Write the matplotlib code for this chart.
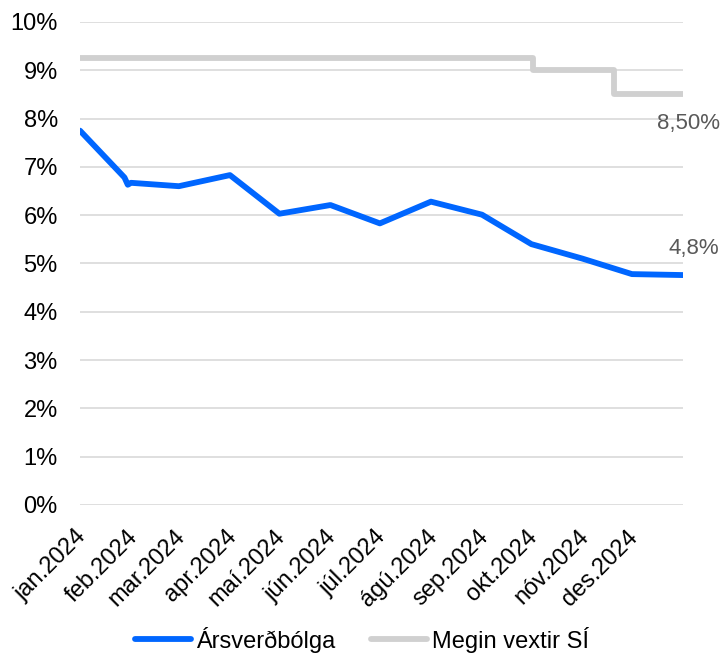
import numpy as np
import pandas as pd
import matplotlib
matplotlib.use("Agg")
from matplotlib import pyplot as plt
from matplotlib.ticker import FuncFormatter
import matplotlib.transforms as mtransforms

plt.rcParams['font.family'] = ['Liberation Sans', 'DejaVu Sans']

# verðbólga (12 mán.)
infl_dates = ['2024-01-01', '2024-01-28', '2024-01-30', '2024-02-01', '2024-03-01',
              '2024-04-01', '2024-05-01', '2024-06-01', '2024-07-01', '2024-08-01',
              '2024-09-01', '2024-10-01', '2024-11-01', '2024-12-01', '2025-01-01']
infl = [7.75, 6.78, 6.63, 6.67, 6.60, 6.83, 6.03, 6.21, 5.83, 6.28,
        6.01, 5.40, 5.10, 4.78, 4.76]

# meginvextir Seðlabankans
rate_dates = ['2024-01-01', '2024-10-02', '2024-11-20', '2025-01-01']
rates = [9.25, 9.00, 8.50, 8.50]

month_labels = ['jan.2024', 'feb.2024', 'mar.2024', 'apr.2024', 'maí.2024', 'jún.2024',
                'júl.2024', 'ágú.2024', 'sep.2024', 'okt.2024', 'nóv.2024', 'des.2024']

x_infl = pd.to_datetime(infl_dates)
x_rate = pd.to_datetime(rate_dates)
month_ticks = pd.date_range('2024-01-01', periods=12, freq='MS')

fig = plt.figure(figsize=(7.24, 6.62), dpi=100)
ax = fig.add_axes([0.1105, 0.2372, 0.8329, 0.7296])

blue = '#0066ff'
grey = '#d0d0d0'

ax.plot(x_infl, infl, color=blue, lw=4.2, solid_joinstyle='round',
        solid_capstyle='round', label='Ársverðbólga', zorder=3)
ax.step(x_rate, rates, where='post', color=grey, lw=4.2, solid_joinstyle='round',
        solid_capstyle='round', label='Megin vextir SÍ', zorder=2)

ax.set_ylim(0, 10)
ax.set_yticks(range(0, 11))
ax.yaxis.set_major_formatter(FuncFormatter(lambda v, p: f'{int(v)}%'))
ax.set_xlim(x_infl[0], x_infl[-1])
ax.set_xticks(month_ticks)
ax.set_xticklabels(month_labels, rotation=45, ha='right', rotation_mode='anchor')
ax.tick_params(axis='both', length=0, labelsize=17, colors='black')
ax.tick_params(axis='y', pad=16)
ax.tick_params(axis='x', pad=15)
shift = mtransforms.ScaledTranslation(-5 / 100, 0, fig.dpi_scale_trans)
for lab in ax.get_xticklabels():
    lab.set_transform(lab.get_transform() + shift)

ax.grid(axis='y', color='#d9d9d9', lw=1.2)
ax.set_axisbelow(True)
for s in ax.spines.values():
    s.set_visible(False)

ax.annotate('8,50%', xy=(x_rate[-1], rates[-1]), xytext=(4, -21), textcoords='offset points',
            ha='center', va='center', fontsize=16, color='#595959', annotation_clip=False)
ax.annotate('4,8%', xy=(x_infl[-1], infl[-1]), xytext=(8, 19), textcoords='offset points',
            ha='center', va='center', fontsize=16, color='#595959', annotation_clip=False)

fig.legend(loc='lower center', bbox_to_anchor=(0.5, -0.018), ncol=2, frameon=False,
           fontsize=17, handlelength=2.4, handletextpad=0.2, columnspacing=1.5)

fig.savefig('out.png', dpi=100)
